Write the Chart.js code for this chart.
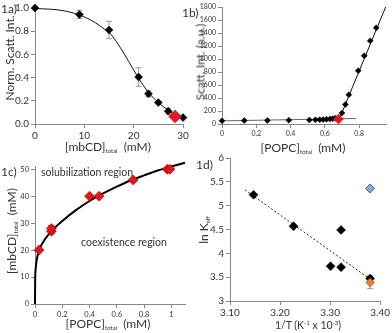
<!DOCTYPE html>
<html>
<head>
<meta charset="utf-8">
<script src="https://cdn.jsdelivr.net/npm/chart.js@4.4.1/dist/chart.umd.min.js"></script>
<style>
body{margin:0;width:392px;height:333px;position:relative;background:#fff;font-family:Lato,sans-serif;overflow:hidden;color:#333}
canvas{position:absolute}
.t{position:absolute;white-space:nowrap;font-size:12px;transform:translate(-50%,-50%)}
.r{transform:translate(-50%,-50%) rotate(-90deg)}
.p{position:absolute;font-size:12px;white-space:nowrap}
sub{font-size:6px;vertical-align:-2px}
sup{font-size:6px;vertical-align:4px}
</style>
</head>
<body>
<canvas id="cA" width="196" height="160" style="left:0;top:0"></canvas>
<canvas id="cB" width="196" height="160" style="left:196px;top:0"></canvas>
<canvas id="cC" width="196" height="173" style="left:0;top:160px"></canvas>
<canvas id="cD" width="196" height="183" style="left:196px;top:150px"></canvas>

<div class="p" style="left:1px;top:1px">1a)</div>
<div class="p" style="left:182px;top:5px">1b)</div>
<div class="p" style="left:1px;top:164px">1c)</div>
<div class="p" style="left:196px;top:157px">1d)</div>

<div class="t r" style="left:9px;top:58px">Norm. Scatt. Int.</div>
<div class="t" style="left:108px;top:146px">[mbCD]<sub>total</sub>&nbsp; (mM)</div>
<div class="t r" style="left:200px;top:62px">Scatt. Int. (a.u.)</div>
<div class="t" style="left:303px;top:147px">[POPC]<sub>total</sub>&nbsp; (mM)</div>
<div class="t r" style="left:11px;top:231px">[mbCD]<sub>total</sub>&nbsp; (mM)</div>
<div class="t" style="left:108px;top:323px">[POPC]<sub>total</sub>&nbsp; (mM)</div>
<div class="t" style="left:87px;top:172px;font-size:10.5px">solubilization region</div>
<div class="t" style="left:124px;top:242px;font-size:10.5px">coexistence region</div>
<div class="t r" style="left:203px;top:230px">ln K<sub>eff</sub></div>
<div class="t" style="left:308px;top:325px;font-size:10.5px">1/T (K<sup>-1</sup> x 10<sup>-3</sup>)</div>

<script>
// panel a: scattering vs mbCD
const mbcdA = [0, 9, 15, 21, 23, 25, 27, 30];
const normA = [1.0, 0.945, 0.81, 0.405, 0.26, 0.185, 0.11, 0.055];
const errA = [0, 0.035, 0.075, 0.08, 0.025, 0.01, 0.025, 0];
const redAx = [28.4], redAy = [0.065], redAerr = [0.03];
const fitAx = [0, 3, 6, 9, 12, 14, 15, 16, 18, 20, 22, 24, 26, 28, 30];
const fitAy = [0.995, 0.99, 0.975, 0.94, 0.88, 0.82, 0.79, 0.74, 0.61, 0.465, 0.33, 0.225, 0.15, 0.09, 0.055];

// panel b: scattering vs POPC
const popcB = [0, 0.13, 0.265, 0.39, 0.51, 0.545, 0.57, 0.59, 0.61, 0.63, 0.645, 0.66, 0.70, 0.72, 0.74, 0.795, 0.83, 0.865, 0.90];
const scattB = [50, 52, 55, 58, 62, 64, 66, 68, 72, 76, 82, 88, 170, 300, 450, 820, 1050, 1280, 1480];
const redBx = [0.68], redBy = [77];
const flatBx = [0, 0.78], flatBy = [48, 85];
const steepBx = [0.685, 0.955], steepBy = [80, 1800];

// panel c: phase boundary
const popcC = [0.03, 0.12, 0.12, 0.40, 0.47, 0.72, 0.97, 0.99];
const mbcdC = [20, 27, 28, 40, 40, 46, 50, 50];
const fitCx = [0, 0.001, 0.005, 0.015, 0.03, 0.06, 0.1, 0.15, 0.2, 0.3, 0.4, 0.5, 0.6, 0.7, 0.8, 0.9, 1.0, 1.1];
const fitCy = [0, 8, 13, 17, 20, 23, 25.8, 28.5, 30.8, 34.8, 38.2, 41, 43.5, 45.8, 47.7, 49.5, 51, 52.4];

// panel d: van't Hoff
const invT = [3.147, 3.227, 3.301, 3.322, 3.322, 3.38];
const lnK = [5.23, 4.57, 3.73, 4.49, 3.71, 3.47];
const errD = [0, 0, 0, 0, 0, 0.06];
const blueDx = [3.38], blueDy = [5.36];
const orangeDx = [3.38], orangeDy = [3.39], orangeErr = [0.13];
const trendDx = [3.13, 3.385], trendDy = [5.33, 3.42];

const FONT = 'Lato';
const xy = (xs, ys) => xs.map((x, i) => ({x: x, y: ys[i]}));

const errorBars = {
  id: 'errorBars',
  beforeDatasetsDraw(chart) {
    const ctx = chart.ctx, sx = chart.scales.x, sy = chart.scales.y;
    chart.data.datasets.forEach(ds => {
      if (!ds.errors) return;
      ctx.save();
      ctx.strokeStyle = ds.errorColor || '#999';
      ctx.lineWidth = 1;
      ds.data.forEach((p, j) => {
        const e = ds.errors[j];
        if (!e) return;
        const x = sx.getPixelForValue(p.x);
        const y0 = sy.getPixelForValue(p.y - e), y1 = sy.getPixelForValue(p.y + e);
        ctx.beginPath();
        ctx.moveTo(x, y0); ctx.lineTo(x, y1);
        ctx.moveTo(x - 3, y0); ctx.lineTo(x + 3, y0);
        ctx.moveTo(x - 3, y1); ctx.lineTo(x + 3, y1);
        ctx.stroke();
      });
      ctx.restore();
    });
  }
};

function axis(o) {
  const a = {
    type: 'linear', min: o.min, max: o.max,
    afterFit: s => { if (s.isHorizontal()) s.height = o.size; else s.width = o.size; },
    grid: {drawOnChartArea: false, color: '#888', tickLength: 4},
    border: {color: '#888'},
    ticks: {stepSize: o.step, includeBounds: false, color: '#333', padding: 2,
      maxRotation: 0, autoSkip: false, font: {family: FONT, size: o.fs},
      callback: o.fmt || (v => String(v))}
  };
  return a;
}

function pts(xs, ys, color, r, extra) {
  return Object.assign({data: xy(xs, ys), pointStyle: 'rectRot', pointRadius: r,
    backgroundColor: color, borderColor: color, borderWidth: 0.5, showLine: false, clip: false}, extra || {});
}
function line(xs, ys, color, w, extra) {
  return Object.assign({data: xy(xs, ys), showLine: true, pointRadius: 0, borderColor: color,
    borderWidth: w, fill: false}, extra || {});
}

function make(id, datasets, xAx, yAx, pad) {
  new Chart(document.getElementById(id), {
    type: 'scatter',
    data: {datasets: datasets},
    options: {
      responsive: false, animation: false, devicePixelRatio: 1,
      layout: {padding: pad},
      plugins: {legend: {display: false}, tooltip: {enabled: false}},
      scales: {x: axis(xAx), y: axis(yAx)}
    },
    plugins: [errorBars]
  });
}

make('cA', [
  pts(redAx, redAy, '#e8141c', 6.5, {borderColor: '#a33', errors: redAerr}),
  pts(mbcdA, normA, '#000', 4, {errors: errA}),
  line(fitAx, fitAy, '#111', 1, {cubicInterpolationMode: 'monotone'})
], {min: 0, max: 30, step: 10, fs: 10, size: 36},
   {min: 0, max: 1, step: 0.2, fs: 10, size: 35, fmt: v => v.toFixed(1)},
   {top: 8, right: 13, left: 0, bottom: 0});

make('cB', [
  pts(redBx, redBy, '#e8141c', 5),
  pts(popcB, scattB, '#000', 3),
  line(steepBx, steepBy, '#111', 1, {clip: false}),
  line(flatBx, flatBy, '#4d7a4d', 1)
], {min: 0, max: 0.96, step: 0.2, fs: 7, size: 36},
   {min: 0, max: 1800, step: 200, fs: 7, size: 26},
   {top: 7, right: 1, left: 0, bottom: 0});

make('cC', [
  pts(popcC, mbcdC, '#ee1111', 5, {borderColor: '#600', errors: [0, 1, 1, 0, 0, 0, 0, 0], errorColor: '#000'}),
  line(fitCx, fitCy, '#000', 2, {cubicInterpolationMode: 'monotone', clip: false})
], {min: 0, max: 1.1, step: 0.2, fs: 7.5, size: 29},
   {min: 0, max: 51, step: 10, fs: 7.5, size: 35},
   {top: 5, right: 11, left: 0, bottom: 0});

make('cD', [
  pts(blueDx, blueDy, '#8eaadb', 4.5, {borderColor: '#3b5f9b', borderWidth: 1}),
  pts(orangeDx, orangeDy, '#ed7d31', 4.5, {borderColor: '#a0521c', errors: orangeErr}),
  pts(invT, lnK, '#000', 4.5, {errors: errD}),
  line(trendDx, trendDy, '#222', 1, {borderDash: [2, 2]})
], {min: 3.1, max: 3.4, step: 0.1, fs: 10, size: 32, fmt: v => v.toFixed(2)},
   {min: 3, max: 6, step: 0.5, fs: 10, size: 34},
   {top: 8, right: 8, left: 0, bottom: 0});
</script>
</body>
</html>
